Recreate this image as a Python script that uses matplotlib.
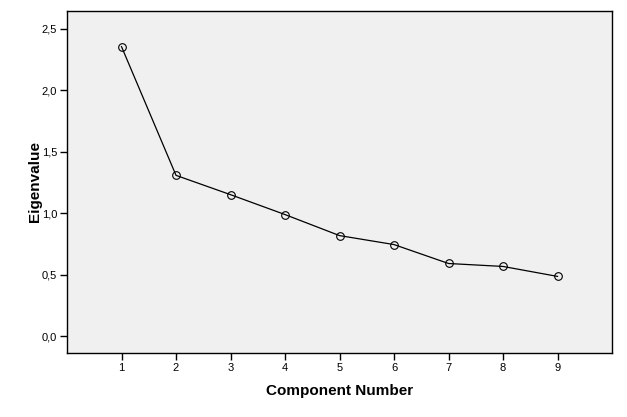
import matplotlib
matplotlib.use('Agg')
from matplotlib import pyplot as plt
from matplotlib.ticker import FuncFormatter

components = [1, 2, 3, 4, 5, 6, 7, 8, 9]
eigenvalues = [2.354, 1.307, 1.150, 0.988, 0.817, 0.744, 0.590, 0.566, 0.485]
y_ticks = [0.0, 0.5, 1.0, 1.5, 2.0, 2.5]

plt.rcParams['font.family'] = ['Liberation Sans', 'DejaVu Sans']

fig = plt.figure(figsize=(6.27, 4.17), dpi=100)
ax = fig.add_axes([0.1069, 0.1535, 0.8692, 0.8201])
ax.set_facecolor('#f0f0f0')

ax.plot(components, eigenvalues, color='black', linewidth=0.9,
        marker='o', markersize=5.5, markerfacecolor='none',
        markeredgecolor='black', markeredgewidth=0.8)

ax.set_xlim(0, 10)
ax.set_ylim(-0.138, 2.644)
ax.set_xticks(components)
ax.set_yticks(y_ticks)
ax.yaxis.set_major_formatter(FuncFormatter(lambda v, p: f"{v:.1f}".replace('.', ',')))
ax.tick_params(direction='out', length=5, width=1, labelsize=8, colors='black', pad=2)

for spine in ax.spines.values():
    spine.set_linewidth(1)
    spine.set_color('black')

ax.set_xlabel("Component Number", fontsize=11, fontweight='bold', labelpad=8)
ax.set_ylabel("Eigenvalue", fontsize=11, fontweight='bold', labelpad=0)

plt.savefig('out.png', dpi=100, facecolor='white')
